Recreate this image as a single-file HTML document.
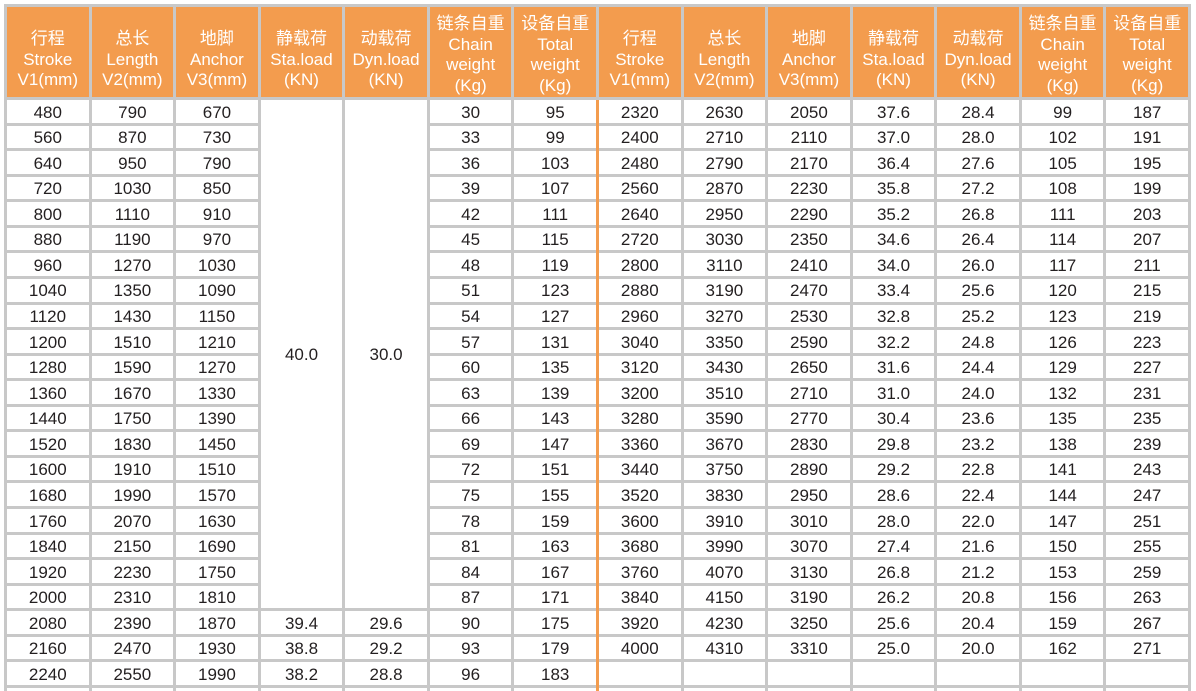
<!DOCTYPE html>
<html><head><meta charset="utf-8">
<style>
html,body{margin:0;padding:0;background:#fff;width:1196px;height:691px;overflow:hidden;position:relative;}
.g{position:absolute;left:4px;top:4px;width:1187px;height:687px;overflow:hidden;box-sizing:border-box;padding:3px 3px 0 3px;background:#c8c8c8;display:grid;grid-template-columns:repeat(14,1fr);grid-template-rows:90px repeat(23,22.57px) 3px;gap:3px;font-family:"Liberation Sans",Arial,sans-serif;}
.g>span{background:#fff;text-align:center;line-height:22.57px;font-size:17px;color:#231f20;padding-top:1.5px;box-sizing:border-box;overflow:hidden;}
.g>span.h{background:#f39c4e;color:#fff;line-height:20.5px;font-family:"Liberation Sans","Noto Sans CJK SC",sans-serif;font-size:17px;padding-top:22px;}
.g>span.h4{padding-top:7px;}
.g>span.m{grid-row:span 20;display:flex;align-items:center;justify-content:center;padding-top:3px;}
.g>span.z{padding:0;}
.sep{position:absolute;left:596px;top:100px;width:3px;height:591px;background:#f39c4e;}
</style></head><body>
<div class="g">
<span class="h">行程<br>Stroke<br>V1(mm)</span>
<span class="h">总长<br>Length<br>V2(mm)</span>
<span class="h">地脚<br>Anchor<br>V3(mm)</span>
<span class="h">静载荷<br>Sta.load<br>(KN)</span>
<span class="h">动载荷<br>Dyn.load<br>(KN)</span>
<span class="h h4">链条自重<br>Chain<br>weight<br>(Kg)</span>
<span class="h h4">设备自重<br>Total<br>weight<br>(Kg)</span>
<span class="h">行程<br>Stroke<br>V1(mm)</span>
<span class="h">总长<br>Length<br>V2(mm)</span>
<span class="h">地脚<br>Anchor<br>V3(mm)</span>
<span class="h">静载荷<br>Sta.load<br>(KN)</span>
<span class="h">动载荷<br>Dyn.load<br>(KN)</span>
<span class="h h4">链条自重<br>Chain<br>weight<br>(Kg)</span>
<span class="h h4">设备自重<br>Total<br>weight<br>(Kg)</span>

<span>480</span><span>790</span><span>670</span><span class="m">40.0</span><span class="m">30.0</span><span>30</span><span>95</span><span>2320</span><span>2630</span><span>2050</span><span>37.6</span><span>28.4</span><span>99</span><span>187</span>
<span>560</span><span>870</span><span>730</span><span>33</span><span>99</span><span>2400</span><span>2710</span><span>2110</span><span>37.0</span><span>28.0</span><span>102</span><span>191</span>
<span>640</span><span>950</span><span>790</span><span>36</span><span>103</span><span>2480</span><span>2790</span><span>2170</span><span>36.4</span><span>27.6</span><span>105</span><span>195</span>
<span>720</span><span>1030</span><span>850</span><span>39</span><span>107</span><span>2560</span><span>2870</span><span>2230</span><span>35.8</span><span>27.2</span><span>108</span><span>199</span>
<span>800</span><span>1110</span><span>910</span><span>42</span><span>111</span><span>2640</span><span>2950</span><span>2290</span><span>35.2</span><span>26.8</span><span>111</span><span>203</span>
<span>880</span><span>1190</span><span>970</span><span>45</span><span>115</span><span>2720</span><span>3030</span><span>2350</span><span>34.6</span><span>26.4</span><span>114</span><span>207</span>
<span>960</span><span>1270</span><span>1030</span><span>48</span><span>119</span><span>2800</span><span>3110</span><span>2410</span><span>34.0</span><span>26.0</span><span>117</span><span>211</span>
<span>1040</span><span>1350</span><span>1090</span><span>51</span><span>123</span><span>2880</span><span>3190</span><span>2470</span><span>33.4</span><span>25.6</span><span>120</span><span>215</span>
<span>1120</span><span>1430</span><span>1150</span><span>54</span><span>127</span><span>2960</span><span>3270</span><span>2530</span><span>32.8</span><span>25.2</span><span>123</span><span>219</span>
<span>1200</span><span>1510</span><span>1210</span><span>57</span><span>131</span><span>3040</span><span>3350</span><span>2590</span><span>32.2</span><span>24.8</span><span>126</span><span>223</span>
<span>1280</span><span>1590</span><span>1270</span><span>60</span><span>135</span><span>3120</span><span>3430</span><span>2650</span><span>31.6</span><span>24.4</span><span>129</span><span>227</span>
<span>1360</span><span>1670</span><span>1330</span><span>63</span><span>139</span><span>3200</span><span>3510</span><span>2710</span><span>31.0</span><span>24.0</span><span>132</span><span>231</span>
<span>1440</span><span>1750</span><span>1390</span><span>66</span><span>143</span><span>3280</span><span>3590</span><span>2770</span><span>30.4</span><span>23.6</span><span>135</span><span>235</span>
<span>1520</span><span>1830</span><span>1450</span><span>69</span><span>147</span><span>3360</span><span>3670</span><span>2830</span><span>29.8</span><span>23.2</span><span>138</span><span>239</span>
<span>1600</span><span>1910</span><span>1510</span><span>72</span><span>151</span><span>3440</span><span>3750</span><span>2890</span><span>29.2</span><span>22.8</span><span>141</span><span>243</span>
<span>1680</span><span>1990</span><span>1570</span><span>75</span><span>155</span><span>3520</span><span>3830</span><span>2950</span><span>28.6</span><span>22.4</span><span>144</span><span>247</span>
<span>1760</span><span>2070</span><span>1630</span><span>78</span><span>159</span><span>3600</span><span>3910</span><span>3010</span><span>28.0</span><span>22.0</span><span>147</span><span>251</span>
<span>1840</span><span>2150</span><span>1690</span><span>81</span><span>163</span><span>3680</span><span>3990</span><span>3070</span><span>27.4</span><span>21.6</span><span>150</span><span>255</span>
<span>1920</span><span>2230</span><span>1750</span><span>84</span><span>167</span><span>3760</span><span>4070</span><span>3130</span><span>26.8</span><span>21.2</span><span>153</span><span>259</span>
<span>2000</span><span>2310</span><span>1810</span><span>87</span><span>171</span><span>3840</span><span>4150</span><span>3190</span><span>26.2</span><span>20.8</span><span>156</span><span>263</span>
<span>2080</span><span>2390</span><span>1870</span><span>39.4</span><span>29.6</span><span>90</span><span>175</span><span>3920</span><span>4230</span><span>3250</span><span>25.6</span><span>20.4</span><span>159</span><span>267</span>
<span>2160</span><span>2470</span><span>1930</span><span>38.8</span><span>29.2</span><span>93</span><span>179</span><span>4000</span><span>4310</span><span>3310</span><span>25.0</span><span>20.0</span><span>162</span><span>271</span>
<span>2240</span><span>2550</span><span>1990</span><span>38.2</span><span>28.8</span><span>96</span><span>183</span><span></span><span></span><span></span><span></span><span></span><span></span><span></span>
<span class="z"></span><span class="z"></span><span class="z"></span><span class="z"></span><span class="z"></span><span class="z"></span><span class="z"></span><span class="z"></span><span class="z"></span><span class="z"></span><span class="z"></span><span class="z"></span><span class="z"></span><span class="z"></span>
</div>
<div class="sep"></div>
</body></html>
